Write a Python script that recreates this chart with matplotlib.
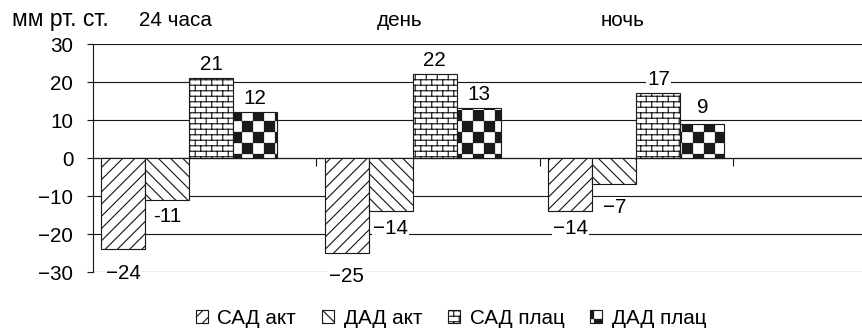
import warnings
warnings.filterwarnings('ignore')
import numpy as np
import matplotlib
matplotlib.use('Agg')
import matplotlib.pyplot as plt
import matplotlib.hatch as mhatch
from matplotlib.path import Path
from matplotlib.transforms import blended_transform_factory

# ---------------- data ----------------
categories = ['24 часа', 'день', 'ночь']
series_names = ['САД акт', 'ДАД акт', 'САД плац', 'ДАД плац']
sad_akt = [-24, -25, -14]
dad_akt = [-11, -14, -7]
sad_plac = [21, 22, 17]
dad_plac = [12, 13, 9]
sad_akt_labels = ['−24', '−25', '−14']
dad_akt_labels = ['-11', '−14', '−7']
sad_plac_labels = ['21', '22', '17']
dad_plac_labels = ['12', '13', '9']
y_ticks = [-30, -20, -10, 0, 10, 20, 30]
y_unit = 'мм рт. ст.'

# ---------------- custom hatches ----------------
class BrickHatch(mhatch.HatchPatternBase):
    rows = 20
    cols = 10

    def __init__(self, hatch, density):
        self.on = 'B' in hatch
        R, N = self.rows, self.cols
        self.num_vertices = (2 * R + (R - 1) * N * 2 + N * 4) if self.on else 0

    def set_vertices_and_codes(self, vertices, codes):
        R, N = self.rows, self.cols
        segs = []
        for r in range(R):
            y = (r + 0.5) / R
            segs.append(((0.0, y), (1.0, y)))
        for r in range(R):
            y0 = (r + 0.5) / R
            y1 = (r + 1.5) / R
            for c in range(N):
                x = (c + 0.25 + 0.5 * (r % 2)) / N
                if y1 <= 1.0:
                    segs.append(((x, y0), (x, y1)))
                else:
                    segs.append(((x, y0), (x, 1.0)))
                    segs.append(((x, 0.0), (x, y1 - 1.0)))
        v = np.array(segs, dtype=float).reshape(-1, 2)
        vertices[:] = v
        codes[0::2] = Path.MOVETO
        codes[1::2] = Path.LINETO


class CheckerHatch(mhatch.HatchPatternBase):
    n = 10

    def __init__(self, hatch, density):
        self.on = 'C' in hatch
        self.num_vertices = (self.n * self.n // 2) * 5 if self.on else 0

    def set_vertices_and_codes(self, vertices, codes):
        n = self.n
        s = 1.0 / n
        e = 0.004
        k = 0
        for i in range(n):
            for j in range(n):
                if (i + j) % 2 == 0:
                    x0, y0 = i * s + e, j * s + e
                    x1, y1 = (i + 1) * s - e, (j + 1) * s - e
                    vertices[k:k + 5] = [(x0, y0), (x1, y0), (x1, y1), (x0, y1), (x0, y0)]
                    codes[k:k + 5] = [Path.MOVETO, Path.LINETO, Path.LINETO,
                                      Path.LINETO, Path.CLOSEPOLY]
                    k += 5


mhatch._hatch_types.extend([BrickHatch, CheckerHatch])

# ---------------- style ----------------
plt.rcParams['font.family'] = ['Liberation Sans', 'DejaVu Sans']
plt.rcParams['hatch.color'] = 'black'
plt.rcParams['hatch.linewidth'] = 0.75

DPI = 110
W, H = 862, 334
FS = 13.5
fig = plt.figure(figsize=((W + 0.4) / DPI, (H + 0.4) / DPI), dpi=DPI)
ax = fig.add_axes([93 / W, 62 / H, (W - 93) / W, 228 / H])

ink = '#1a1a1a'
lw = 0.75
bar_w = 0.197
hatches = ['///', '\\\\\\', 'B', 'C']
series = [sad_akt, dad_akt, sad_plac, dad_plac]
labels = [sad_akt_labels, dad_akt_labels, sad_plac_labels, dad_plac_labels]
# label vertical offsets in pixels
label_offsets = [[-24, -23, -17], [-16, -17, -23], [14, 14, 14], [14, 14, 16]]

x = np.arange(len(categories))
handles = []
for k, (vals, h) in enumerate(zip(series, hatches)):
    xs = x + (k - 1.5) * bar_w
    b = ax.bar(xs, vals, bar_w, facecolor='white', edgecolor=ink,
               linewidth=lw, hatch=h, zorder=3, label=series_names[k])
    handles.append(b)
    for xi, v, lab, off in zip(xs, vals, labels[k], label_offsets[k]):
        ax.annotate(lab, (xi, v), xytext=(0, off), textcoords='offset pixels',
                    ha='center', va='center', fontsize=FS, color='black', zorder=5,
                    bbox=dict(facecolor='white', edgecolor='none', pad=0.5))

ax.set_ylim(-30, 30)
ax.set_xlim(-0.4295, 3.011)
ax.set_yticks(y_ticks)
ax.yaxis.grid(True, color=ink, linewidth=lw, zorder=0)
ax.set_axisbelow(True)

for s in ['top', 'right']:
    ax.spines[s].set_visible(False)
ax.spines['bottom'].set_position(('data', 0))
ax.spines['bottom'].set_color(ink)
ax.spines['bottom'].set_linewidth(lw)
ax.spines['left'].set_color(ink)
ax.spines['left'].set_linewidth(lw)

ax.set_xticks([0.568, 1.570, 2.434])
ax.set_xticklabels([])
ax.tick_params(axis='x', direction='out', length=5, width=lw, color=ink)
ax.tick_params(axis='y', direction='out', length=4, width=lw, color=ink,
               labelsize=FS, pad=9, labelcolor='black')

trans = blended_transform_factory(ax.transData, ax.transAxes)
for i, c in enumerate(categories):
    ax.text(i - 0.06, 1.105, c, transform=trans, ha='center', va='center',
            fontsize=FS, color='black')
t = fig.text(12 / W, 1 - 19 / H, y_unit, ha='left', va='center', fontsize=15,
             color='black')

leg = ax.legend(handles=handles, labels=series_names, loc='center',
                bbox_to_anchor=(0.523, 0.048), bbox_transform=fig.transFigure,
                ncol=4, frameon=False, handlelength=0.6, handleheight=0.6,
                handletextpad=0.45, columnspacing=1.25, fontsize=FS)

fig.savefig('out.png', dpi=DPI, facecolor='white')
